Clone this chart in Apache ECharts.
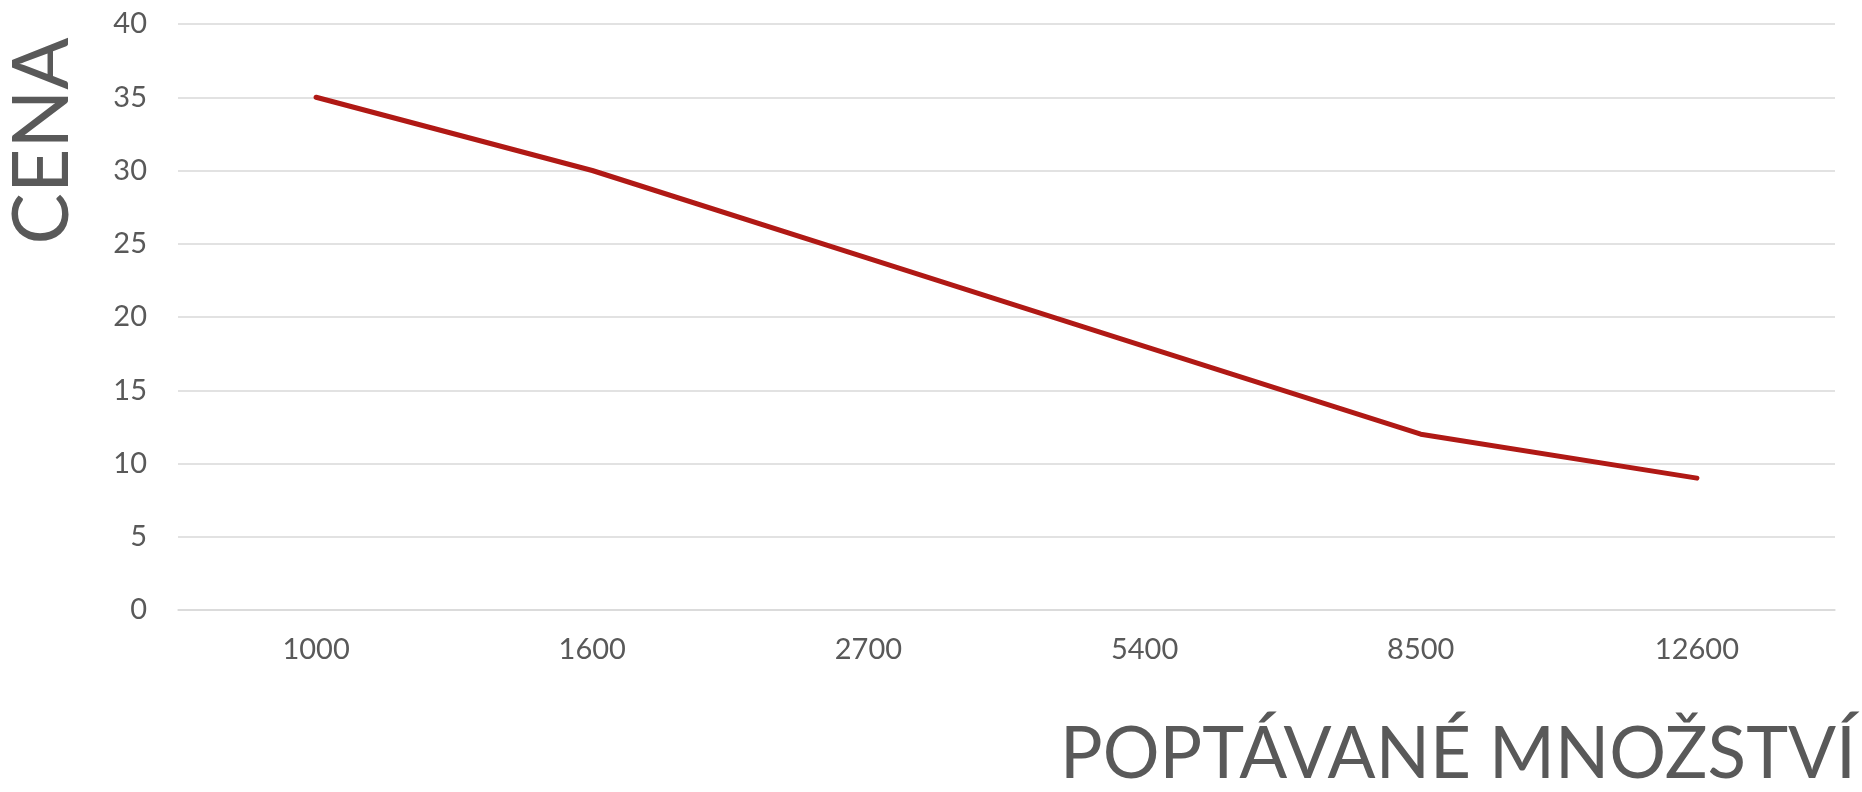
<!DOCTYPE html>
<html>
<head>
<meta charset="utf-8">
<script src="https://cdn.jsdelivr.net/npm/echarts@6/dist/echarts.min.js"></script>
<style>
html,body{margin:0;padding:0;background:#fff;}
#c{width:1862px;height:792px;}
</style>
</head>
<body>
<div id="c"></div>
<script>
const categories = ['1000', '1600', '2700', '5400', '8500', '12600'];
const prices = [35, 30, 24, 18, 12, 9];
const yTitle = 'CENA';
const xTitle = 'POPTÁVANÉ MNOŽSTVÍ';

const FONT = 'Lato';
const TXT = '#595959';
const chart = echarts.init(document.getElementById('c'));
chart.setOption({
  animation: false,
  backgroundColor: '#ffffff',
  grid: { left: 178, right: 27, top: 24, bottom: 182, containLabel: false },
  xAxis: {
    type: 'category',
    data: categories,
    boundaryGap: true,
    axisLine: { show: true, lineStyle: { color: '#d9d9d9', width: 1.5 } },
    axisTick: { show: false },
    axisLabel: { color: TXT, fontFamily: FONT, fontSize: 29, margin: 25 }
  },
  yAxis: {
    type: 'value',
    min: 0, max: 40, interval: 5,
    axisLine: { show: false },
    axisTick: { show: false },
    splitLine: { lineStyle: { color: '#d9d9d9', width: 1.5 } },
    axisLabel: { color: TXT, fontFamily: FONT, fontSize: 29, margin: 31 }
  },
  graphic: [
    {
      type: 'text', x: 43, y: 141, rotation: Math.PI / 2,
      style: { text: yTitle, fill: TXT, font: '77px ' + FONT, textAlign: 'center', textVerticalAlign: 'middle' }
    },
    {
      type: 'text', x: 1856, y: 755,
      style: { text: xTitle, fill: TXT, font: '71px ' + FONT, textAlign: 'right', textVerticalAlign: 'middle' }
    }
  ],
  series: [{
    type: 'line',
    data: prices,
    showSymbol: false,
    symbol: 'none',
    lineStyle: { color: '#b01915', width: 5, cap: 'round', join: 'round' }
  }]
});
</script>
</body>
</html>
